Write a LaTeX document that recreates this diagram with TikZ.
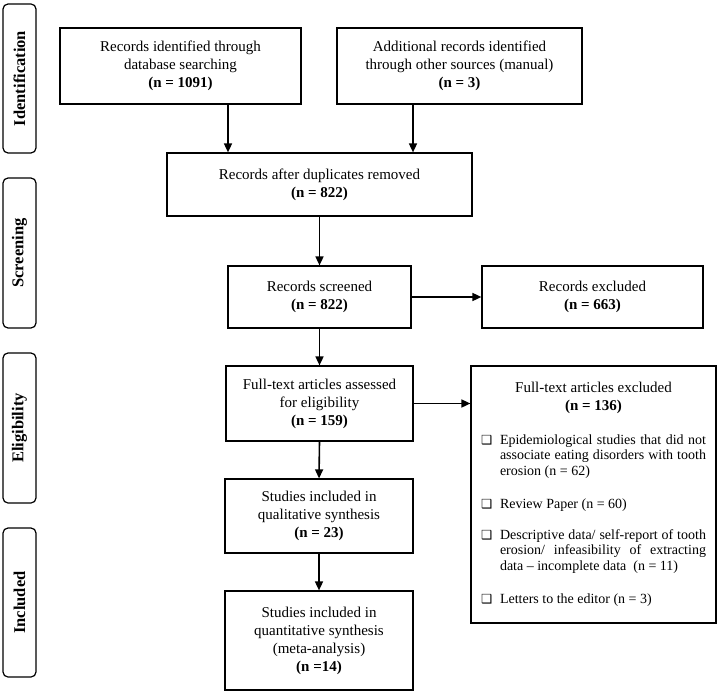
\documentclass[tikz,border=0pt]{standalone}
\usepackage{fontspec}
\setmainfont{Liberation Serif}
\newfontfamily\dejavu{DejaVu Sans}
\usetikzlibrary{arrows.meta}
\newcommand\exitem[1]{\hangindent=19pt\hangafter=1\noindent\makebox[19pt][l]{\dejavu\fontsize{12.5}{12}\selectfont ❑}#1\par}
\begin{document}
\begin{tikzpicture}[x=1pt,y=-1pt,
  box/.style={draw,line width=1.2pt,align=center,font=\fontsize{15}{18}\selectfont,inner sep=0pt},
  phase/.style={draw,line width=1.2pt,rounded corners=5pt,rotate=90,align=center,
    font=\fontsize{16.5}{18}\selectfont\bfseries,inner sep=0pt,minimum height=33pt},
  arr/.style={line width=1.6pt,-{Triangle[length=9pt,width=8pt]}}]
\useasboundingbox (0,0) rectangle (720,695);

% phase labels
\node[phase,minimum width=149pt] (p1) at (19.5,78.5) {Identification};
\node[phase,minimum width=150pt] (p2) at (19.5,253) {Screening};
\node[phase,minimum width=150pt] (p3) at (19.5,428) {Eligibility};
\node[phase,minimum width=149pt] (p4) at (19.5,602.5) {Included};

% boxes
\node[box,minimum width=241pt,minimum height=76pt] (b1) at (180.5,66)
  {Records identified through\\database searching\\\textbf{(n = 1091)}};
\node[box,minimum width=245pt,minimum height=76pt] (b2) at (459.5,66)
  {Additional records identified\\through other sources (manual)\\\textbf{(n = 3)}};
\node[box,minimum width=305pt,minimum height=63pt] (b3) at (319.5,184.5)
  {Records after duplicates removed\\\textbf{(n = 822)}};
\node[box,minimum width=183pt,minimum height=62pt] (b4) at (319.5,297)
  {Records screened\\\textbf{(n = 822)}};
\node[box,minimum width=221pt,minimum height=62pt] (ex1) at (592.5,297)
  {Records excluded\\\textbf{(n = 663)}};
\node[box,minimum width=187pt,minimum height=75pt] (b5) at (319.5,403.5)
  {Full-text articles assessed\\for eligibility\\\textbf{(n = 159)}};
\node[box,minimum width=188pt,minimum height=74pt] (b6) at (319,516)
  {Studies included in\\qualitative synthesis\\\textbf{(n = 23)}};
\node[box,minimum width=188pt,minimum height=99pt] (b7) at (319,640.5)
  {Studies included in\\quantitative synthesis\\(meta-analysis)\\\textbf{(n =14)}};
\node[box,minimum width=245pt,minimum height=257pt] (ex2) at (593.5,494.5)
  {\begin{minipage}{225pt}
   {\centering\fontsize{15}{18}\selectfont Full-text articles excluded\\\textbf{(n = 136)}\par}
   \vspace{18pt}
   \fontsize{14}{15.5}\selectfont
   \exitem{Epidemiological studies that did not\linebreak associate eating disorders with tooth\linebreak erosion (n = 62)}
   \vspace{17.5pt}
   \exitem{Review Paper (n = 60)}
   \vspace{15.5pt}
   \exitem{Descriptive data/ self-report of tooth\linebreak erosion/ infeasibility of extracting\linebreak data -- incomplete data~ (n = 11)}
   \vspace{17.5pt}
   \exitem{Letters to the editor (n = 3)}
   \end{minipage}};

% connectors
\coordinate (a1) at ([xshift=47.5pt]b1.south);
\coordinate (a2) at ([xshift=-46.5pt]b2.south);
\draw[arr] (a1) -- (a1 |- b3.north);
\draw[arr] (a2) -- (a2 |- b3.north);
\draw[arr] (b3.south) -- (b4.north);
\draw[arr] (b4.south) -- (b5.north);
\draw[arr] (b5.south) -- (b6.north);
\draw[arr] (b6.south) -- (b7.north);
\draw[arr] (b4.east) -- (ex1.west);
\draw[arr] (b5.east) -- (b5.east -| ex2.west);
\end{tikzpicture}
\end{document}
